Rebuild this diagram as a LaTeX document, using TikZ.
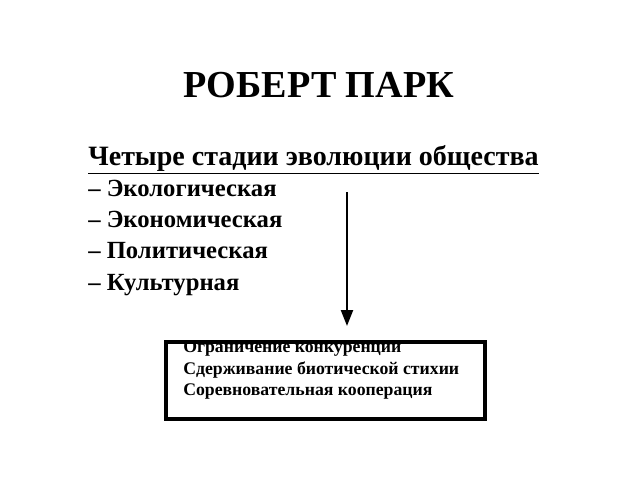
\documentclass[tikz,border=0pt]{standalone}
\usepackage{fontspec}
\setmainfont{Liberation Serif}
\usetikzlibrary{arrows.meta}

\begin{document}
\begin{tikzpicture}[x=0.75pt, y=-0.75pt,
		titletext/.style={font=\fontsize{28.6}{30}\selectfont\bfseries},
		headtext/.style={anchor=base west, inner sep=0pt, font=\fontsize{21}{23}\selectfont\bfseries},
		stagetext/.style={anchor=base west, inner sep=0pt, font=\fontsize{18.5}{20}\selectfont\bfseries},
		boxtext/.style={anchor=base west, inner sep=0pt, font=\fontsize{13.3}{15}\selectfont\bfseries}]
						\useasboundingbox (0, 0) rectangle (640, 480);
						\node[titletext] (title) at (319, 85) {РОБЕРТ ПАРК};
						\node[headtext] (head) at (88, 165) {\underline{Четыре стадии эволюции общества}};
						\node[stagetext] (s1) at (88, 196) {– Экологическая};
						\node[stagetext] (s2) at (88, 227.3) {– Экономическая};
						\node[stagetext] (s3) at (88, 258.6) {– Политическая};
						\node[stagetext] (s4) at (88, 290) {– Культурная};
						\node[draw, line width=2.8pt, minimum width=319*0.75pt, minimum height=77*0.75pt, inner sep=0pt] (box) at (325.5, 380.5) {};
						\node[boxtext] (b1) at (183, 352.5) {Ограничение конкуренции};
						\node[boxtext] (b2) at (183, 374) {Сдерживание биотической стихии};
						\node[boxtext] (b3) at (183, 395.5) {Соревновательная кооперация};
						\coordinate (top) at (347, 192);
						\coordinate (tip) at (347, 326);
						\draw[line width=1.6pt, -{Triangle[length=12pt, width=9pt]}] (top) -- (tip);
					\end{tikzpicture}
\end{document}
